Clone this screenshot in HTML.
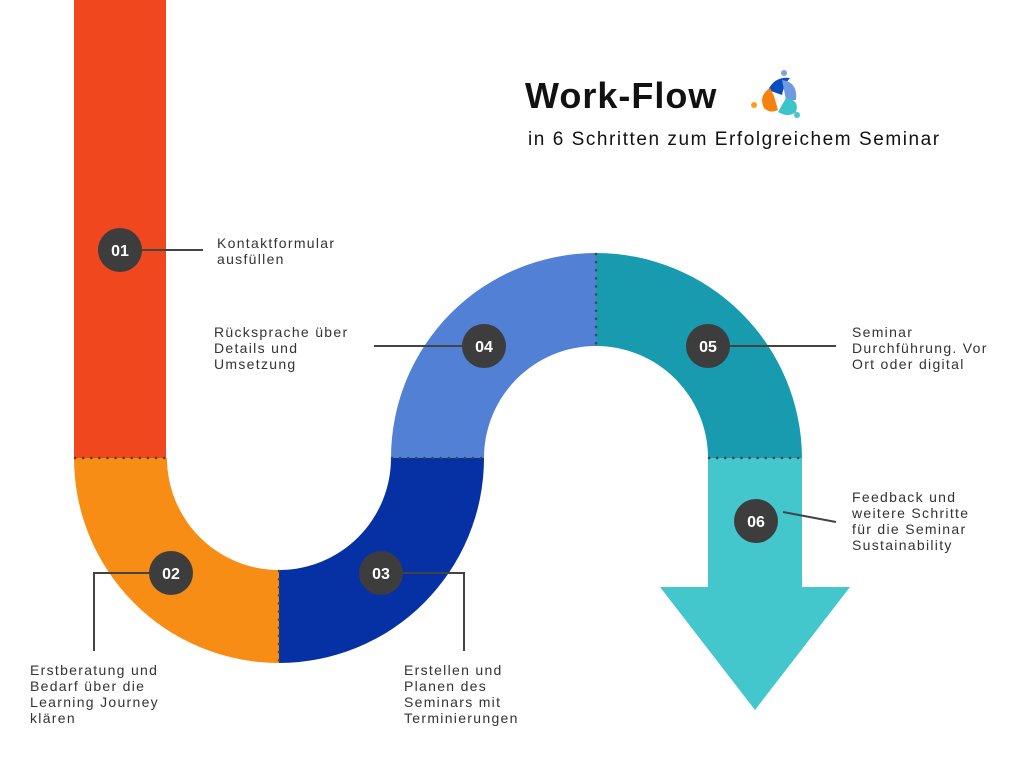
<!DOCTYPE html>
<html><head><meta charset="utf-8"><style>
html,body{margin:0;padding:0;background:#fff;}
svg{display:block;font-family:"Liberation Sans",sans-serif;}
.l{font-size:14px;fill:#333;letter-spacing:1.3px;}
.n{font-size:16px;font-weight:bold;fill:#fff;}
</style></head><body>
<svg width="1024" height="768" viewBox="0 0 1024 768">
<rect x="74" y="0" width="92" height="458" fill="#f1471f"/>
<path d="M74 458 A205 205 0 0 0 279 663 L279 570 A112 112 0 0 1 167 458 Z" fill="#f88d15"/>
<path d="M279 663 A205 205 0 0 0 484 458 L391 458 A112 112 0 0 1 279 570 Z" fill="#0531a4"/>
<path d="M391 458 A205 205 0 0 1 596 253 L596 346 A112 112 0 0 0 484 458 Z" fill="#5180d4"/>
<path d="M596 253 A206 206 0 0 1 802 458 L708 458 A112 112 0 0 0 596 346 Z" fill="#189aaf"/>
<rect x="708" y="458" width="94" height="130" fill="#44c6cd"/>
<polygon points="660,587 850,587 755,710" fill="#44c6cd"/>
<g stroke="#444" stroke-width="2.5" stroke-dasharray="0.1 8" stroke-linecap="round">
<line x1="75" y1="458" x2="165" y2="458"/>
<line x1="392" y1="458" x2="483" y2="458"/>
<line x1="709" y1="458" x2="801" y2="458"/>
<line x1="279" y1="571" x2="279" y2="662"/>
<line x1="596" y1="254" x2="596" y2="345"/>
</g>
<g stroke="#444" stroke-width="2" fill="none">
<line x1="142" y1="250" x2="203" y2="250"/>
<line x1="374" y1="346" x2="462" y2="346"/>
<line x1="730" y1="346" x2="836" y2="346"/>
<line x1="783" y1="512" x2="836" y2="522"/>
<polyline points="149,573 94,573 94,651"/>
<polyline points="403,573 464,573 464,651"/>
</g>
<g fill="#3d3d3d">
<circle cx="120" cy="250" r="22"/><circle cx="171" cy="573" r="22"/><circle cx="381" cy="573" r="22"/>
<circle cx="484" cy="346" r="22"/><circle cx="708" cy="346" r="22"/><circle cx="756" cy="521" r="22"/>
</g>
<g class="n" text-anchor="middle">
<text x="120" y="256">01</text><text x="171" y="579">02</text><text x="381" y="579">03</text>
<text x="484" y="352">04</text><text x="708" y="352">05</text><text x="756" y="527">06</text>
</g>
<g class="l">
<text x="217" y="248">Kontaktformular</text><text x="217" y="264">ausfüllen</text>
<text x="214" y="337">Rücksprache über</text><text x="214" y="353">Details und</text><text x="214" y="369">Umsetzung</text>
<text x="852" y="337">Seminar</text><text x="852" y="353">Durchführung. Vor</text><text x="852" y="369">Ort oder digital</text>
<text x="852" y="502">Feedback und</text><text x="852" y="518">weitere Schritte</text><text x="852" y="534">für die Seminar</text><text x="852" y="550">Sustainability</text>
<text x="30" y="675">Erstberatung  und</text><text x="30" y="691">Bedarf über die</text><text x="30" y="707">Learning Journey</text><text x="30" y="723">klären</text>
<text x="404" y="675">Erstellen und</text><text x="404" y="691">Planen des</text><text x="404" y="707">Seminars mit</text><text x="404" y="723">Terminierungen</text>
</g>
<text x="525" y="108" font-size="36" font-weight="bold" fill="#111" letter-spacing="1">Work-Flow</text>
<text x="528" y="145" font-size="19" fill="#111" letter-spacing="1.55">in 6 Schritten zum Erfolgreichem Seminar</text>
<g>
<path d="M768 90 Q775 76 790 78 Q784 84 782 95 Z" fill="#0a4cc0"/>
<path d="M782 80 Q798 82 796 100 L786 100 Z" fill="#6e9ae0"/>
<path d="M786 98 Q800 100 796 112 Q788 118 778 112 Z" fill="#3cc4c8"/>
<path d="M770 88 Q758 96 764 108 Q770 114 778 110 L774 96 Z" fill="#f7820f"/>
<circle cx="784" cy="73" r="3" fill="#7ca2e6"/><circle cx="754" cy="105" r="3" fill="#f7a020"/><circle cx="797" cy="115" r="3" fill="#44c6cd"/>
</g>
</svg>
</body></html>
